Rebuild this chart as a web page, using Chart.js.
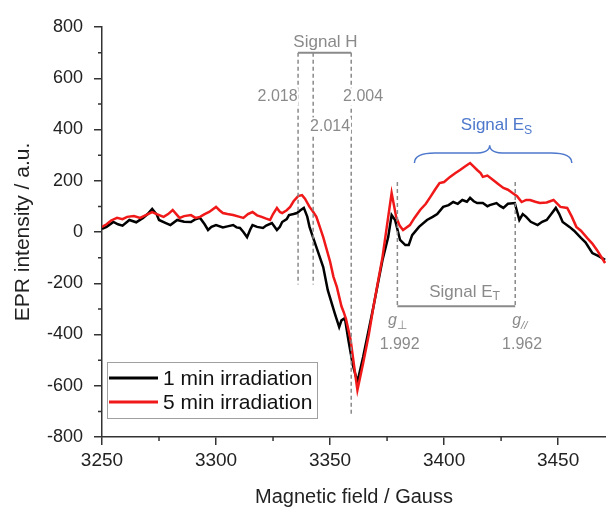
<!DOCTYPE html>
<html>
<head>
<meta charset="utf-8">
<script src="https://cdn.jsdelivr.net/npm/chart.js@4.4.1/dist/chart.umd.min.js"></script>
<style>
  html, body { margin: 0; padding: 0; background: #fff; }
</style>
</head>
<body>
<canvas id="eprChart" width="606" height="507"></canvas>
<script>
// 1 min irradiation (black)
const fieldBlack = [
    3250, 3252, 3255, 3257, 3259, 3262, 3265, 3268, 3270, 3272, 3274, 3275, 3278, 3280, 3283,
    3286, 3289, 3291, 3293, 3295, 3296.5, 3298, 3300, 3303, 3305, 3307.5, 3309, 3310.5, 3312, 3313.6,
    3315, 3316, 3318, 3320.6, 3322, 3324.5, 3326.7, 3328, 3329, 3331, 3332, 3334, 3335.5, 3337, 3338.5,
    3340, 3341, 3342.5, 3344, 3347, 3349, 3352, 3354, 3355, 3356.5, 3358, 3360, 3362, 3364.5, 3367,
    3369, 3371, 3373, 3375.5, 3377, 3378.5, 3380.7, 3383, 3384.5, 3386, 3389, 3392.5, 3395, 3397, 3399.6,
    3402, 3404, 3406, 3408, 3410, 3411.4, 3413, 3414.5, 3417, 3419, 3420, 3423, 3424.5, 3426, 3428,
    3431, 3433, 3434.5, 3436, 3438, 3441, 3443, 3445, 3447, 3449, 3450.5, 3452, 3455, 3457, 3460,
    3462, 3465, 3468, 3470.6
];
const intensityBlack = [
    12, 20, 39, 30, 25, 47, 38, 55, 70, 90, 68, 47, 35, 27, 47,
    40, 39, 50, 55, 30, 8, 20, 27, 18, 22, 27, 18, 16, 0, -20,
    10, 27, 20, 16, 25, 35, 8, 20, 39, 50, 66, 70, 74, 85, 94,
    60, 20, -20, -59, -137, -227, -316, -371, -345, -336, -420, -520, -585, -488, -380,
    -293, -200, -109, -20, 66, 47, -31, -51, -51, -12, 20, 47, 59, 70, 98,
    105, 117, 110, 125, 118, 133, 120, 113, 113, 100, 105, 113, 102, 94, 110,
    113, 47, 70, 59, 40, 27, 40, 47, 70, 94, 70, 39, 20, 5, -23,
    -40, -82, -95, -109
];

// 5 min irradiation (red)
const fieldRed = [
    3250, 3252, 3254, 3256.6, 3259, 3261, 3264, 3266.7, 3269, 3272, 3274, 3277, 3279, 3281, 3284,
    3286, 3289, 3291, 3293, 3295, 3297, 3300, 3301.5, 3303, 3305, 3307.5, 3310, 3312, 3314, 3316,
    3318, 3320, 3322, 3323.7, 3325, 3326.7, 3328, 3329, 3331, 3332.5, 3334, 3336, 3337.7, 3339, 3341,
    3342.5, 3344, 3345.5, 3347, 3350, 3351.5, 3353, 3355, 3356, 3357, 3359, 3360.5, 3362, 3364.5, 3367,
    3369, 3371, 3373, 3375.5, 3377, 3379, 3380.5, 3382, 3385, 3387, 3389.5, 3392, 3394, 3396, 3398,
    3400, 3402.6, 3405, 3407, 3409, 3411.4, 3413, 3414.5, 3416, 3417, 3419, 3421.5, 3424, 3426, 3428,
    3430, 3432, 3434, 3436, 3437.7, 3440, 3442, 3445, 3448, 3451, 3454, 3456, 3458, 3460, 3462.7,
    3465, 3467, 3470.6
];
const intensityRed = [
    20, 30, 45, 55, 50, 59, 62, 55, 65, 78, 70, 59, 70, 86, 55,
    62, 66, 55, 59, 70, 78, 98, 85, 74, 70, 66, 60, 55, 70, 78,
    65, 59, 52, 47, 70, 94, 78, 74, 85, 98, 120, 140, 144, 130, 98,
    80, 59, 20, -20, -115, -175, -215, -290, -313, -340, -420, -520, -617, -512, -400,
    -293, -195, -98, 59, 152, 59, 25, 8, 27, 55, 86, 110, 137, 165, 191,
    195, 215, 230, 242, 255, 269, 255, 242, 230, 215, 220, 203, 185, 172, 165,
    152, 140, 117, 125, 125, 118, 113, 115, 125, 98, 94, 60, 20, 5, -23,
    -45, -70, -121
];

const seriesLabels = ["1 min irradiation", "5 min irradiation"];
const xTicks = [3250, 3300, 3350, 3400, 3450];
const yTicks = [-800, -600, -400, -200, 0, 200, 400, 600, 800];

// g-values marked in the figure; resonance field B = h*nu / (g * muB)
const gSignalH = [2.018, 2.014, 2.004];
const gSignalET = [1.992, 1.962];
const fieldTimesG = 6732; // Gauss

const FONT = "'Liberation Sans', Arial, sans-serif";
const GREY = "#8a8a8a";
const BLUE = "#4d78cc";

function fieldOf(g) {
    return fieldTimesG / g;
}

// draws pieces of text like "Signal E" + sub "S", centred at cx, cy
function drawRich(ctx, parts, cx, cy, size, color, bg) {
    let total = 0;
    parts.forEach(p => {
        const s = p.sub ? size * 0.72 : size;
        ctx.font = (p.italic ? "italic " : "") + s + "px " + FONT;
        p.w = ctx.measureText(p.t).width;
        total += p.w;
    });
    let x = cx - total / 2;
    if (bg) {
        ctx.fillStyle = "#fff";
        ctx.fillRect(x - 1, cy - size * 0.55, total + 2, size * 1.1);
    }
    ctx.fillStyle = color;
    ctx.textBaseline = "middle";
    ctx.textAlign = "left";
    parts.forEach(p => {
        const s = p.sub ? size * 0.72 : size;
        ctx.font = (p.italic ? "italic " : "") + s + "px " + FONT;
        ctx.fillText(p.t, x, p.sub ? cy + size * 0.3 : cy);
        x += p.w;
    });
}

const minorTicks = {
    id: "minorTicks",
    afterDraw(chart) {
        const {ctx, scales: {x, y}} = chart;
        ctx.save();
        ctx.strokeStyle = "#333";
        ctx.lineWidth = 1.5;
        ctx.beginPath();
        xTicks.forEach(v => {
            const px = x.getPixelForValue(v + 25);
            if (v + 25 > x.max) return;
            ctx.moveTo(px, x.top);
            ctx.lineTo(px, x.top + 4);
        });
        yTicks.slice(0, -1).forEach(v => {
            const py = y.getPixelForValue(v + 100);
            ctx.moveTo(y.right - 4, py);
            ctx.lineTo(y.right, py);
        });
        ctx.stroke();
        ctx.restore();
    }
};

const annotations = {
    id: "annotations",
    afterDatasetsDraw(chart) {
        const {ctx, scales: {x, y}} = chart;
        const px = v => x.getPixelForValue(v);
        const py = v => y.getPixelForValue(v);
        ctx.save();

        // Signal H
        const hx = gSignalH.map(fieldOf);
        ctx.strokeStyle = GREY;
        ctx.lineWidth = 1.5;
        ctx.setLineDash([4, 3]);
        ctx.beginPath();
        ctx.moveTo(px(hx[0]), py(700)); ctx.lineTo(px(hx[0]), py(-205));
        ctx.moveTo(px(hx[1]), py(700)); ctx.lineTo(px(hx[1]), py(-205));
        ctx.moveTo(px(hx[2]), py(700)); ctx.lineTo(px(hx[2]), py(-715));
        ctx.stroke();
        ctx.setLineDash([]);
        ctx.lineWidth = 2;
        ctx.beginPath();
        ctx.moveTo(px(hx[0]), py(700)); ctx.lineTo(px(hx[2]), py(700));
        ctx.stroke();
        drawRich(ctx, [{t: "Signal H"}], px(3348), py(740), 17, GREY);
        drawRich(ctx, [{t: gSignalH[0].toFixed(3)}], px(3327), py(527), 16, GREY, true);
        drawRich(ctx, [{t: gSignalH[2].toFixed(3)}], px(3364.5), py(527), 16, GREY, true);
        drawRich(ctx, [{t: gSignalH[1].toFixed(3)}], px(3350), py(413), 16, GREY, true);

        // Signal E_T
        const tx = gSignalET.map(fieldOf);
        ctx.strokeStyle = GREY;
        ctx.lineWidth = 1.5;
        ctx.setLineDash([4, 3]);
        ctx.beginPath();
        ctx.moveTo(px(tx[0]), py(195)); ctx.lineTo(px(tx[0]), py(-290));
        ctx.moveTo(px(tx[1]), py(195)); ctx.lineTo(px(tx[1]), py(-290));
        ctx.stroke();
        ctx.setLineDash([]);
        ctx.lineWidth = 2;
        ctx.beginPath();
        ctx.moveTo(px(tx[0]), py(-290)); ctx.lineTo(px(tx[1]), py(-290));
        ctx.stroke();
        drawRich(ctx, [{t: "Signal E"}, {t: "T", sub: true}], px(3409), py(-234), 17, GREY);
        drawRich(ctx, [{t: "g", italic: true}, {t: "\u22A5", sub: true}], px(tx[0]), py(-347), 16, GREY);
        drawRich(ctx, [{t: "g", italic: true}, {t: "//", sub: true, italic: true}], px(tx[1] + 2), py(-347), 16, GREY);
        drawRich(ctx, [{t: gSignalET[0].toFixed(3)}], px(tx[0] + 1), py(-441), 16, GREY);
        drawRich(ctx, [{t: gSignalET[1].toFixed(3)}], px(tx[1] + 3), py(-441), 16, GREY);

        // Signal E_S brace
        ctx.strokeStyle = BLUE;
        ctx.lineWidth = 1.5;
        ctx.beginPath();
        ctx.moveTo(px(3387), py(269));
        ctx.quadraticCurveTo(px(3387), py(308), px(3396), py(308));
        ctx.lineTo(px(3413), py(308));
        ctx.quadraticCurveTo(px(3420), py(308), px(3420), py(339));
        ctx.quadraticCurveTo(px(3420), py(308), px(3427), py(308));
        ctx.lineTo(px(3447), py(308));
        ctx.quadraticCurveTo(px(3456), py(308), px(3456), py(269));
        ctx.stroke();
        drawRich(ctx, [{t: "Signal E"}, {t: "S", sub: true}], px(3423), py(417), 17, BLUE);

        ctx.restore();
    }
};

const boxLegend = {
    id: "boxLegend",
    afterDraw(chart) {
        const {ctx, chartArea} = chart;
        const left = chartArea.left + 5;
        const top = chartArea.bottom - 75;
        ctx.save();
        ctx.fillStyle = "#fff";
        ctx.fillRect(left, top, 210, 56);
        ctx.strokeStyle = "#a0a0a0";
        ctx.lineWidth = 1;
        ctx.strokeRect(left + 0.5, top + 0.5, 210, 56);
        chart.data.datasets.forEach((ds, i) => {
            const yy = top + 16 + i * 24;
            ctx.strokeStyle = ds.borderColor;
            ctx.lineWidth = 3;
            ctx.beginPath();
            ctx.moveTo(left + 2, yy);
            ctx.lineTo(left + 51, yy);
            ctx.stroke();
            ctx.fillStyle = "#111";
            ctx.font = "21px " + FONT;
            ctx.textBaseline = "middle";
            ctx.fillText(ds.label, left + 56, yy + 1);
        });
        ctx.restore();
    }
};

const ctx = document.getElementById("eprChart").getContext("2d");

new Chart(ctx, {
    type: "line",
    data: {
        datasets: [{
            label: seriesLabels[0],
            data: fieldBlack.map((f, i) => ({x: f, y: intensityBlack[i]})),
            borderColor: "#000000",
            borderWidth: 2.5,
            pointRadius: 0,
            order: 1
        }, {
            label: seriesLabels[1],
            data: fieldRed.map((f, i) => ({x: f, y: intensityRed[i]})),
            borderColor: "#f01818",
            borderWidth: 2.5,
            pointRadius: 0,
            order: 0
        }]
    },
    options: {
        responsive: false,
        animation: false,
        devicePixelRatio: 1,
        layout: {
            padding: {top: 27, right: 0, bottom: 0, left: 0}
        },
        plugins: {
            legend: {display: false},
            tooltip: {enabled: false}
        },
        scales: {
            x: {
                type: "linear",
                min: 3250,
                max: 3471,
                afterBuildTicks(scale) {
                    scale.ticks = xTicks.map(v => ({value: v}));
                },
                afterFit(scale) {
                    scale.height = 70;
                },
                border: {color: "#333", width: 1.5},
                grid: {drawOnChartArea: false, tickLength: 8, color: "#333", lineWidth: 1.5},
                ticks: {
                    color: "#222",
                    padding: 4,
                    maxRotation: 0,
                    font: {family: FONT, size: 19},
                    callback(value) {
                        return String(value);
                    }
                },
                title: {
                    display: true,
                    text: "Magnetic field / Gauss",
                    color: "#222",
                    font: {family: FONT, size: 20, lineHeight: 1},
                    padding: {top: 0, bottom: 0}
                }
            },
            y: {
                min: -800,
                max: 800,
                afterBuildTicks(scale) {
                    scale.ticks = yTicks.map(v => ({value: v}));
                },
                afterFit(scale) {
                    scale.width = 102;
                },
                border: {color: "#333", width: 1.5},
                grid: {drawOnChartArea: false, tickLength: 8, color: "#333", lineWidth: 1.5},
                ticks: {
                    color: "#222",
                    padding: 11,
                    font: {family: FONT, size: 18},
                    callback(value) {
                        return String(value);
                    }
                },
                title: {
                    display: true,
                    text: "EPR intensity / a.u.",
                    color: "#222",
                    font: {family: FONT, size: 21, lineHeight: 1.2},
                    padding: {top: 11, bottom: 0}
                }
            }
        }
    },
    plugins: [minorTicks, annotations, boxLegend]
});
</script>
</body>
</html>
